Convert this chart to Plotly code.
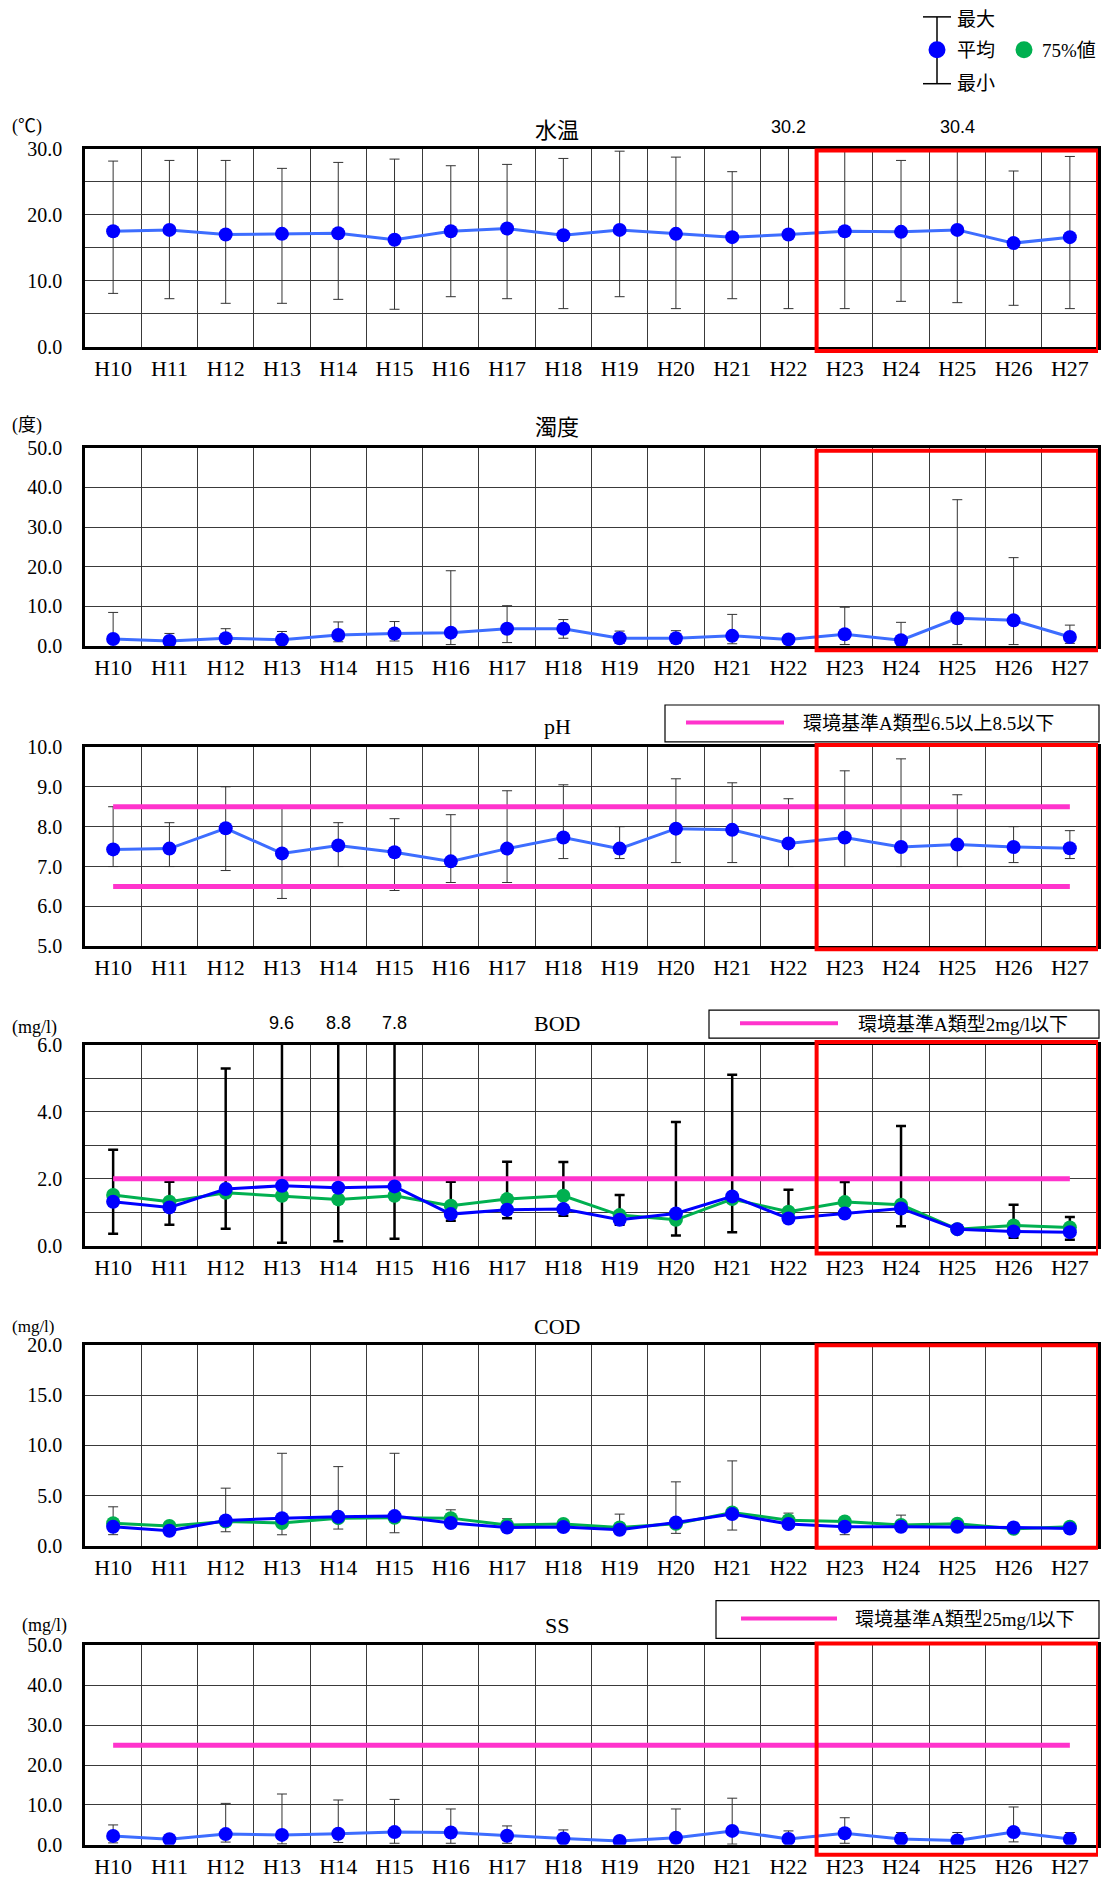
import plotly.graph_objects as go

W, H = 1101, 1879

years = ["H10", "H11", "H12", "H13", "H14", "H15", "H16", "H17", "H18",
         "H19", "H20", "H21", "H22", "H23", "H24", "H25", "H26", "H27"]

# 水温 (℃)
temp_mean = [17.5, 17.7, 17.0, 17.1, 17.2, 16.2, 17.5, 17.9, 16.9,
             17.7, 17.1, 16.6, 17.0, 17.5, 17.4, 17.7, 15.7, 16.6]
temp_max = [28.1, 28.2, 28.2, 27.0, 27.9, 28.4, 27.4, 27.6, 28.5,
            29.6, 28.7, 26.5, 30.2, 29.8, 28.2, 30.4, 26.6, 28.8]
temp_min = [8.1, 7.3, 6.6, 6.6, 7.2, 5.7, 7.6, 7.3, 5.8,
            7.6, 5.8, 7.3, 5.8, 5.8, 6.9, 6.7, 6.3, 5.8]

# 濁度 (度)
turb_mean = [1.8, 1.3, 2.0, 1.6, 2.8, 3.2, 3.4, 4.4, 4.4,
             2.0, 2.0, 2.6, 1.7, 3.0, 1.5, 7.0, 6.5, 2.3]
turb_max = [8.5, 3.2, 4.4, 3.7, 6.1, 6.2, 19.0, 10.2, 6.7,
            3.8, 3.9, 8.0, 2.5, 9.8, 6.0, 36.9, 22.3, 5.3]
turb_min = [0.7, 0.4, 0.7, 0.4, 1.1, 1.3, 0.4, 0.9, 2.0,
            0.7, 0.7, 0.6, 0.8, 0.4, 0.3, 0.4, 0.4, 0.7]

# pH
ph_mean = [7.43, 7.45, 7.96, 7.33, 7.53, 7.36, 7.13, 7.45, 7.73,
           7.45, 7.95, 7.92, 7.58, 7.73, 7.49, 7.55, 7.49, 7.46]
ph_max = [8.5, 8.1, 9.0, 8.5, 8.1, 8.2, 8.3, 8.9, 9.05,
          8.0, 9.2, 9.1, 8.7, 9.4, 9.7, 8.8, 8.0, 7.9]
ph_min = [7.0, 7.0, 6.9, 6.2, 7.0, 6.4, 6.6, 6.6, 7.2,
          7.2, 7.1, 7.1, 7.0, 7.0, 7.0, 7.0, 7.1, 7.2]
ph_std = [6.5, 8.5]

# BOD (mg/l)
bod_mean = [1.31, 1.14, 1.69, 1.79, 1.73, 1.77, 0.94, 1.07, 1.09,
            0.77, 0.96, 1.47, 0.81, 0.96, 1.11, 0.49, 0.42, 0.40]
bod_p75 = [1.51, 1.31, 1.58, 1.49, 1.38, 1.49, 1.19, 1.39, 1.49,
           0.91, 0.77, 1.39, 1.01, 1.30, 1.22, 0.49, 0.60, 0.54]
bod_max = [2.87, 1.91, 5.3, 9.6, 8.8, 7.8, 1.91, 2.51, 2.5,
           1.51, 3.7, 5.11, 1.67, 1.9, 3.58, 0.5, 1.22, 0.85]
bod_min = [0.35, 0.62, 0.5, 0.08, 0.13, 0.2, 0.74, 0.82, 0.89,
           0.62, 0.3, 0.4, 0.75, 0.9, 0.58, 0.48, 0.23, 0.17]
bod_std = [2.0]

# COD (mg/l)
cod_mean = [1.89, 1.49, 2.52, 2.75, 2.89, 2.95, 2.26, 1.82, 1.86,
            1.59, 2.32, 3.15, 2.16, 1.89, 1.89, 1.89, 1.82, 1.72]
cod_p75 = [2.25, 1.96, 2.42, 2.26, 2.75, 2.79, 2.75, 2.06, 2.16,
           1.82, 2.19, 3.32, 2.55, 2.42, 2.06, 2.19, 1.69, 1.89]
cod_max = [3.88, 2.0, 5.74, 9.22, 7.89, 9.22, 3.58, 2.69, 2.2,
           3.15, 6.37, 8.46, 3.25, 2.82, 3.05, 2.3, 2.0, 2.1]
cod_min = [1.1, 1.2, 1.39, 1.09, 1.66, 1.29, 1.9, 1.6, 1.5,
           1.3, 1.23, 1.56, 1.8, 1.1, 1.5, 1.6, 1.5, 1.5]

# SS (mg/l)
ss_mean = [2.25, 1.4, 2.7, 2.5, 2.8, 3.2, 3.1, 2.3, 1.6,
           1.0, 1.8, 3.5, 1.5, 2.9, 1.5, 1.1, 3.2, 1.5]
ss_max = [5.0, 2.0, 10.4, 12.75, 11.25, 11.4, 9.0, 4.75, 3.75,
          1.5, 9.0, 11.7, 3.5, 6.8, 3.1, 3.1, 9.5, 3.1]
ss_min = [0.5, 1.0, 0.7, 0.25, 0.6, 0.4, 0.4, 0.4, 1.0,
          0.5, 0.5, 0.2, 0.5, 0.4, 0.5, 0.5, 0.75, 0.5]
ss_std = [25.0]

titles = ["水温", "濁度", "pH", "BOD", "COD", "SS"]
units = ["(℃)", "(度)", "", "(mg/l)", "(mg/l)", "(mg/l)"]
std_labels = ["", "", "環境基準A類型6.5以上8.5以下", "環境基準A類型2mg/l以下",
              "", "環境基準A類型25mg/l以下"]
legend_labels = ["最大", "平均", "最小", "75%値"]

# ---------------- styling / layout -----------------
SERIF = "Liberation Serif, Noto Sans CJK JP, serif"
PINK = "#ff33cc"
BLUE = "#0000ff"
LBLUE = "#3d6dff"
GREEN = "#00b050"
GRID = "#3a3a3a"

panels = [
    dict(mean=temp_mean, mx=temp_max, mn=temp_min, p75=None, std=[],
         rng=[0, 30], dtick=10, minor=5, top=147, bot=346,
         line=LBLUE, ebc="#333333", ebw=1, box=(0.99, -0.02),
         tit_y=129, unit_y=125, unit_x=10, unit_fs=18),
    dict(mean=turb_mean, mx=turb_max, mn=turb_min, p75=None, std=[],
         rng=[0, 50], dtick=10, minor=None, top=447, bot=646,
         line=LBLUE, ebc="#333333", ebw=1, box=(0.985, -0.02),
         tit_y=427, unit_y=425, unit_x=10, unit_fs=18),
    dict(mean=ph_mean, mx=ph_max, mn=ph_min, p75=None, std=ph_std,
         rng=[5, 10], dtick=1, minor=None, top=747, bot=947,
         line=LBLUE, ebc="#333333", ebw=1, box=(1.01, -0.015),
         tit_y=727, unit_y=None, unit_x=10, unit_fs=18,
         leg=dict(x0=665, x1=1099, y0=705, y1=742, l0=686, l1=784, tx=801)),
    dict(mean=bod_mean, mx=bod_max, mn=bod_min, p75=bod_p75, std=bod_std,
         rng=[0, 6], dtick=2, minor=1, top=1046, bot=1247,
         line=BLUE, ebc="#000000", ebw=2.5, box=(1.015, -0.04),
         tit_y=1024, unit_y=1028, unit_x=10, unit_fs=18,
         leg=dict(x0=709, x1=1099, y0=1011, y1=1039, l0=740, l1=838, tx=856)),
    dict(mean=cod_mean, mx=cod_max, mn=cod_min, p75=cod_p75, std=[],
         rng=[0, 20], dtick=5, minor=None, top=1347, bot=1548,
         line=BLUE, ebc="#333333", ebw=1, box=(1.0, -0.01),
         tit_y=1328, unit_y=1328, unit_x=10, unit_fs=17),
    dict(mean=ss_mean, mx=ss_max, mn=ss_min, p75=None, std=ss_std,
         rng=[0, 50], dtick=10, minor=None, top=1648, bot=1848,
         line=LBLUE, ebc="#333333", ebw=1, box=(1.01, -0.05),
         tit_y=1628, unit_y=1628, unit_x=20, unit_fs=18,
         leg=dict(x0=716, x1=1099, y0=1603, y1=1641, l0=741, l1=837, tx=853)),
]

PX_L, PX_R = 85, 1098
# the captured page is slightly compressed vertically; compensate
Y_OFF, Y_SCALE = 9.1, 0.9894


def fx(px):
    return px / W


def fy(py):
    return 1 - ((py - Y_OFF) / Y_SCALE) / H


fig = go.Figure()
shapes = []
annotations = []
layout_axes = {}

for i, p in enumerate(panels):
    n = i + 1
    xa = "x" if n == 1 else f"x{n}"
    ya = "y" if n == 1 else f"y{n}"
    xkey = "xaxis" if n == 1 else f"xaxis{n}"
    ykey = "yaxis" if n == 1 else f"yaxis{n}"

    up = [a - b for a, b in zip(p["mx"], p["mean"])]
    dn = [b - c for b, c in zip(p["mean"], p["mn"])]

    # error bars (max / min)
    fig.add_trace(go.Scatter(
        x=years, y=p["mean"], mode="markers", xaxis=xa, yaxis=ya,
        marker=dict(size=1, opacity=0), showlegend=False, hoverinfo="skip",
        error_y=dict(type="data", symmetric=False, array=up, arrayminus=dn,
                     color=p["ebc"], thickness=p["ebw"], width=5)))

    # environmental standard lines
    for s in p["std"]:
        fig.add_trace(go.Scatter(
            x=[years[0], years[-1]], y=[s, s], mode="lines", xaxis=xa, yaxis=ya,
            line=dict(color=PINK, width=5), showlegend=False, hoverinfo="skip"))

    if p["p75"] is not None:
        fig.add_trace(go.Scatter(
            x=years, y=p["p75"], mode="lines+markers", xaxis=xa, yaxis=ya,
            line=dict(color=GREEN, width=3),
            marker=dict(color=GREEN, size=14), showlegend=False))

    fig.add_trace(go.Scatter(
        x=years, y=p["mean"], mode="lines+markers", xaxis=xa, yaxis=ya,
        line=dict(color=p["line"], width=3),
        marker=dict(color=BLUE, size=14), showlegend=False))

    dom_y = [fy(p["bot"]), fy(p["top"])]
    layout_axes[xkey] = dict(
        type="category", domain=[fx(PX_L), fx(PX_R)], anchor=ya,
        range=[-0.5, len(years) - 0.5], tickson="boundaries",
        showgrid=True, gridcolor=GRID, gridwidth=1,
        showline=True, linecolor="black", linewidth=2.5, mirror=True,
        ticks="", tickfont=dict(family=SERIF, size=22, color="black"),
        fixedrange=True)
    yax = dict(
        domain=dom_y, anchor=xa, range=p["rng"], dtick=p["dtick"],
        tick0=p["rng"][0], tickformat=".1f",
        showgrid=True, gridcolor=GRID, gridwidth=1,
        showline=True, linecolor="black", linewidth=2.5, mirror=True,
        ticks="", ticklabelstandoff=16,
        tickfont=dict(family=SERIF, size=20, color="black"),
        zeroline=False, fixedrange=True)
    if p["minor"]:
        yax["minor"] = dict(dtick=p["minor"], showgrid=True,
                            gridcolor=GRID, gridwidth=1)
    layout_axes[ykey] = yax

    # red highlight box H23-H27
    shapes.append(dict(type="rect", xref=xa, yref=f"{ya} domain",
                       x0=12.5, x1=17.5, y0=p["box"][1], y1=p["box"][0],
                       line=dict(color="#ff0000", width=4),
                       fillcolor="rgba(0,0,0,0)", layer="above"))

    # title
    annotations.append(dict(text=titles[i], x=fx(557), y=fy(p["tit_y"]),
                            xref="paper", yref="paper", showarrow=False,
                            xanchor="center", yanchor="middle",
                            font=dict(family=SERIF, size=22, color="black")))
    # unit
    if units[i]:
        annotations.append(dict(text=units[i], x=fx(p["unit_x"]), y=fy(p["unit_y"]),
                                xref="paper", yref="paper", showarrow=False,
                                xanchor="left", yanchor="middle",
                                font=dict(family=SERIF, size=p["unit_fs"], color="black")))
    # overflow max values
    for j, v in enumerate(p["mx"]):
        if v > p["rng"][1]:
            annotations.append(dict(text=f"{v:.1f}", x=years[j], y=1,
                                    xref=xa, yref=f"{ya} domain", showarrow=False,
                                    xanchor="center", yanchor="middle", yshift=22,
                                    font=dict(family="Liberation Sans, Arial, sans-serif",
                                              size=18, color="black")))
    # standard legend box
    if "leg" in p and std_labels[i]:
        L = p["leg"]
        cy = (L["y0"] + L["y1"]) / 2
        shapes.append(dict(type="rect", xref="paper", yref="paper",
                           x0=fx(L["x0"]), x1=fx(L["x1"]), y0=fy(L["y1"]), y1=fy(L["y0"]),
                           line=dict(color="black", width=1.2), fillcolor="white"))
        shapes.append(dict(type="line", xref="paper", yref="paper",
                           x0=fx(L["l0"]), x1=fx(L["l1"]), y0=fy(cy - 1), y1=fy(cy - 1),
                           line=dict(color=PINK, width=4)))
        annotations.append(dict(text=std_labels[i], x=fx(L["tx"]), y=fy(cy),
                                xref="paper", yref="paper", showarrow=False,
                                xanchor="left", yanchor="middle",
                                font=dict(family=SERIF, size=19, color="black")))

# top-right key (最大 / 平均 / 最小 / 75%値)
kx = 937
shapes += [
    dict(type="line", xref="paper", yref="paper", x0=fx(kx), x1=fx(kx),
         y0=fy(15), y1=fy(82), line=dict(color="black", width=1.5)),
    dict(type="line", xref="paper", yref="paper", x0=fx(kx - 14), x1=fx(kx + 14),
         y0=fy(15), y1=fy(15), line=dict(color="black", width=1.5)),
    dict(type="line", xref="paper", yref="paper", x0=fx(kx - 14), x1=fx(kx + 14),
         y0=fy(82), y1=fy(82), line=dict(color="black", width=1.5)),
    dict(type="circle", xref="paper", yref="paper", x0=fx(kx - 8.5), x1=fx(kx + 8.5),
         y0=fy(48 + 8.5), y1=fy(48 - 8.5), line=dict(width=0), fillcolor=BLUE),
    dict(type="circle", xref="paper", yref="paper", x0=fx(1024 - 8.5), x1=fx(1024 + 8.5),
         y0=fy(48 + 8.5), y1=fy(48 - 8.5), line=dict(width=0), fillcolor=GREEN),
]
for txt, tx, ty in [(legend_labels[0], 955, 18), (legend_labels[1], 955, 49),
                    (legend_labels[2], 955, 82), (legend_labels[3], 1040, 49)]:
    annotations.append(dict(text=txt, x=fx(tx), y=fy(ty), xref="paper", yref="paper",
                            showarrow=False, xanchor="left", yanchor="middle",
                            font=dict(family=SERIF, size=19, color="black")))

fig.update_layout(
    width=W, height=H, autosize=False,
    margin=dict(l=0, r=0, t=0, b=0),
    paper_bgcolor="white", plot_bgcolor="white",
    showlegend=False, shapes=shapes, annotations=annotations,
    **layout_axes)

fig.write_html(
    "out.html",
    config={"displayModeBar": False, "responsive": False},
    post_script="document.body.style.margin='0';"
                "document.body.style.padding='0';"
                "document.documentElement.style.overflow='hidden';")
